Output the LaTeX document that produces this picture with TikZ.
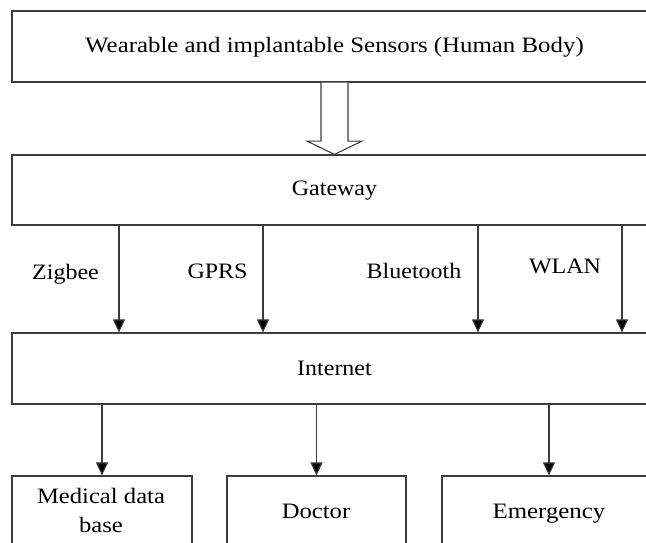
\documentclass[tikz,border=0pt]{standalone}
\usepackage{fontspec}
\setmainfont{Liberation Serif}
\usetikzlibrary{arrows.meta,calc}
\definecolor{linegray}{HTML}{3C3C3C}
\newcommand{\sx}[2][1.09]{\scalebox{#1}[1]{#2}}
\tikzset{
  box/.style={draw=linegray,line width=1.2pt,rectangle,inner sep=0pt},
  lbl/.style={inner sep=0pt,anchor=base,text=black,font=\fontsize{22}{26}\selectfont},
  arr/.style={draw=linegray,line width=1.1pt,-{Triangle[width=12pt,length=13pt,fill=black]}},
  hollow/.style={draw=linegray,line width=1.1pt,fill=white,line join=miter}
}
\begin{document}
\begin{tikzpicture}[x=1pt,y=-1pt]
\useasboundingbox (0,0) rectangle (646,543);
\clip (0,0) rectangle (646,543);
\fill[white] (0,0) rectangle (646,543);

% layer boxes
\node[box,minimum width=645pt,minimum height=71pt] (sens) at (334.5,46.5) {};
\node[box,minimum width=645pt,minimum height=70pt] (gw)   at (334.5,190) {};
\node[box,minimum width=645pt,minimum height=71pt] (inet) at (334.5,368.5) {};
\node[box,minimum width=180pt,minimum height=80pt] (mdb)  at (102,516) {};
\node[box,minimum width=179pt,minimum height=80pt] (doc)  at (316.5,516) {};
\node[box,minimum width=214pt,minimum height=80pt] (emg)  at (549,516) {};

% texts
\node[lbl] (tsens) at (334.5,53) {\sx[1.13]{Wearable and implantable Sensors (Human Body)}};
\node[lbl] (tgw)   at (334.5,195) {\sx{Gateway}};
\node[lbl] (tinet) at (334.5,375.5) {\sx{Internet}};
\node[lbl] (tmdb1) at (101,503) {\sx[1.12]{Medical data}};
\node[lbl] (tmdb2) at (101,532) {\sx[1.12]{base}};
\node[lbl] (tdoc)  at (316,518) {\sx[1.12]{Doctor}};
\node[lbl] (temg)  at (549,518) {\sx[1.13]{Emergency}};

% link labels
\node[lbl] (lzig) at (65.5,279)  {\sx{Zigbee}};
\node[lbl] (lgps) at (217.5,278) {\sx{GPRS}};
\node[lbl] (lblu) at (414,278)   {\sx{Bluetooth}};
\node[lbl] (lwln) at (565,273.5) {\sx{WLAN}};

% hollow block arrow from sensors to gateway
\draw[hollow] ($(sens.south)+(-13.5,0)$) -- ($(sens.south)+(-13.5,58.5)$)
  -- ($(sens.south)+(-27.5,58.5)$) -- (gw.north)
  -- ($(sens.south)+(27.5,58.5)$) -- ($(sens.south)+(13.5,58.5)$)
  -- ($(sens.south)+(13.5,0)$);

% gateway to internet links
\coordinate (x1) at (119,0);
\coordinate (x2) at (263,0);
\coordinate (x3) at (478,0);
\coordinate (x4) at (622,0);
\foreach \c in {x1,x2,x3,x4}
  \draw[arr] (\c |- gw.south) -- (\c |- inet.north);

% internet to services
\draw[arr] (mdb.north |- inet.south) -- (mdb.north);
\draw[arr] (doc.north |- inet.south) -- (doc.north);
\draw[arr] (emg.north |- inet.south) -- (emg.north);
\end{tikzpicture}
\end{document}
